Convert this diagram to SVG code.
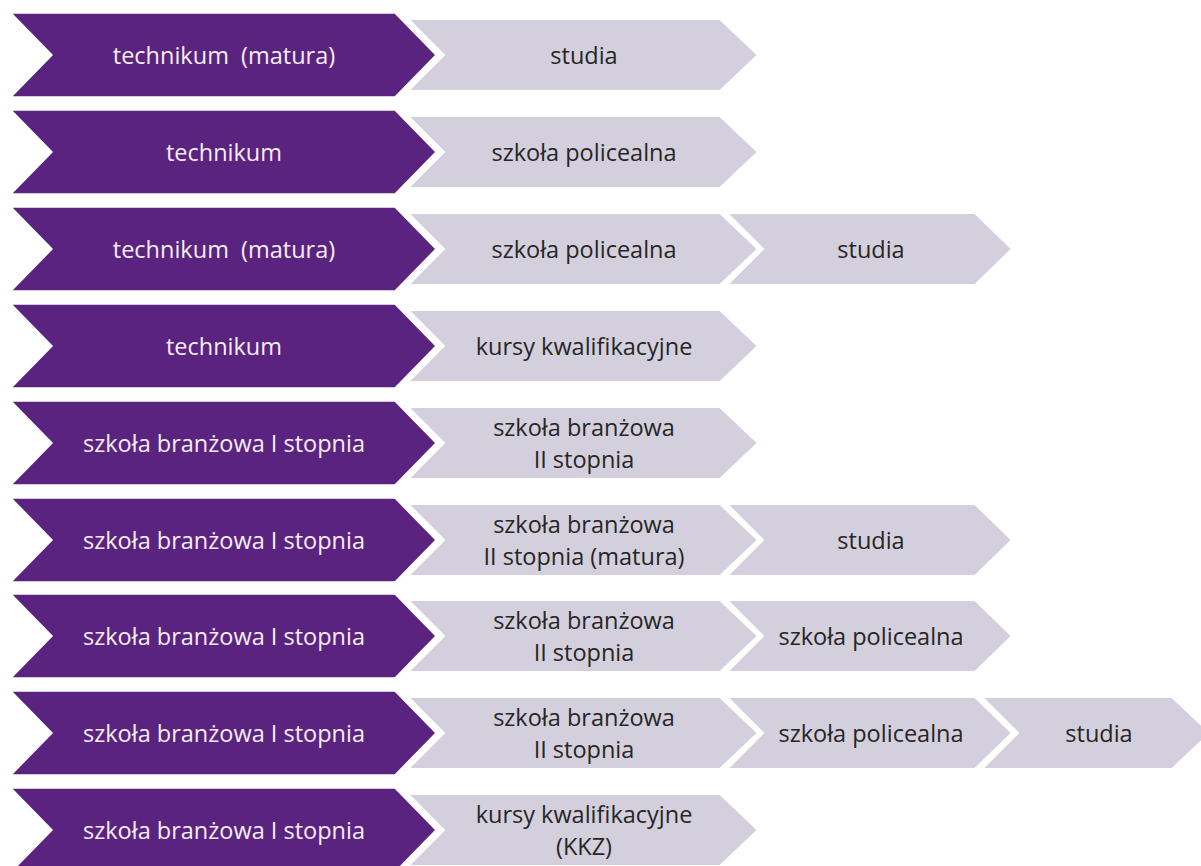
<svg xmlns="http://www.w3.org/2000/svg" width="1201" height="866" viewBox="0 0 1201 866">
<defs>
<style>
.p{fill:#5B2380;stroke:#fff;stroke-width:1.5}
.g{fill:#D4CFDC;stroke:#fff;stroke-width:2}
text{font-family:"Open Sans","Noto Sans",sans-serif;font-size:23.5px;text-anchor:middle;dominant-baseline:central}
.pt{fill:#F4EEF8}
.gt{fill:#262626}
</style>
<path id="pc" d="M11,-42 H395 L436,0 L395,42 H11 L52,0 Z"/>
<path id="g2" d="M408,-36 H720 L758,0 L720,36 H408 L444,0 Z"/>
<path id="g3" d="M727,-36 H975 L1012,0 L975,36 H727 L763,0 Z"/>
<path id="g4" d="M982,-36 H1172 L1210,0 L1172,36 H982 L1018,0 Z"/>
</defs>
<rect width="1201" height="866" fill="#fff"/>
<g id="connectors"/>
<g id="row1" transform="translate(0,55)">
<g id="r1a"><use href="#pc" class="p"/><text class="pt" x="224" y="0" xml:space="preserve">technikum  (matura)</text></g>
<g id="r1b"><use href="#g2" class="g"/><text class="gt" x="584" y="0">studia</text></g>
</g>
<g id="row2" transform="translate(0,152)">
<g id="r2a"><use href="#pc" class="p"/><text class="pt" x="224" y="0">technikum</text></g>
<g id="r2b"><use href="#g2" class="g"/><text class="gt" x="584" y="0">szkoła policealna</text></g>
</g>
<g id="row3" transform="translate(0,249)">
<g id="r3a"><use href="#pc" class="p"/><text class="pt" x="224" y="0" xml:space="preserve">technikum  (matura)</text></g>
<g id="r3b"><use href="#g2" class="g"/><text class="gt" x="584" y="0">szkoła policealna</text></g>
<g id="r3c"><use href="#g3" class="g"/><text class="gt" x="871" y="0">studia</text></g>
</g>
<g id="row4" transform="translate(0,346)">
<g id="r4a"><use href="#pc" class="p"/><text class="pt" x="224" y="0">technikum</text></g>
<g id="r4b"><use href="#g2" class="g"/><text class="gt" x="584" y="0">kursy kwalifikacyjne</text></g>
</g>
<g id="row5" transform="translate(0,443)">
<g id="r5a"><use href="#pc" class="p"/><text class="pt" x="224" y="0">szkoła branżowa I stopnia</text></g>
<g id="r5b"><use href="#g2" class="g"/><text class="gt" x="584" y="-16">szkoła branżowa</text><text class="gt" x="584" y="16">II stopnia</text></g>
</g>
<g id="row6" transform="translate(0,540)">
<g id="r6a"><use href="#pc" class="p"/><text class="pt" x="224" y="0">szkoła branżowa I stopnia</text></g>
<g id="r6b"><use href="#g2" class="g"/><text class="gt" x="584" y="-16">szkoła branżowa</text><text class="gt" x="584" y="16">II stopnia (matura)</text></g>
<g id="r6c"><use href="#g3" class="g"/><text class="gt" x="871" y="0">studia</text></g>
</g>
<g id="row7" transform="translate(0,636)">
<g id="r7a"><use href="#pc" class="p"/><text class="pt" x="224" y="0">szkoła branżowa I stopnia</text></g>
<g id="r7b"><use href="#g2" class="g"/><text class="gt" x="584" y="-16">szkoła branżowa</text><text class="gt" x="584" y="16">II stopnia</text></g>
<g id="r7c"><use href="#g3" class="g"/><text class="gt" x="871" y="0">szkoła policealna</text></g>
</g>
<g id="row8" transform="translate(0,733)">
<g id="r8a"><use href="#pc" class="p"/><text class="pt" x="224" y="0">szkoła branżowa I stopnia</text></g>
<g id="r8b"><use href="#g2" class="g"/><text class="gt" x="584" y="-16">szkoła branżowa</text><text class="gt" x="584" y="16">II stopnia</text></g>
<g id="r8c"><use href="#g3" class="g"/><text class="gt" x="871" y="0">szkoła policealna</text></g>
<g id="r8d"><use href="#g4" class="g"/><text class="gt" x="1099" y="0">studia</text></g>
</g>
<g id="row9" transform="translate(0,830)">
<g id="r9a"><use href="#pc" class="p"/><text class="pt" x="224" y="0">szkoła branżowa I stopnia</text></g>
<g id="r9b"><use href="#g2" class="g"/><text class="gt" x="584" y="-16">kursy kwalifikacyjne</text><text class="gt" x="584" y="16">(KKZ)</text></g>
</g>
</svg>
